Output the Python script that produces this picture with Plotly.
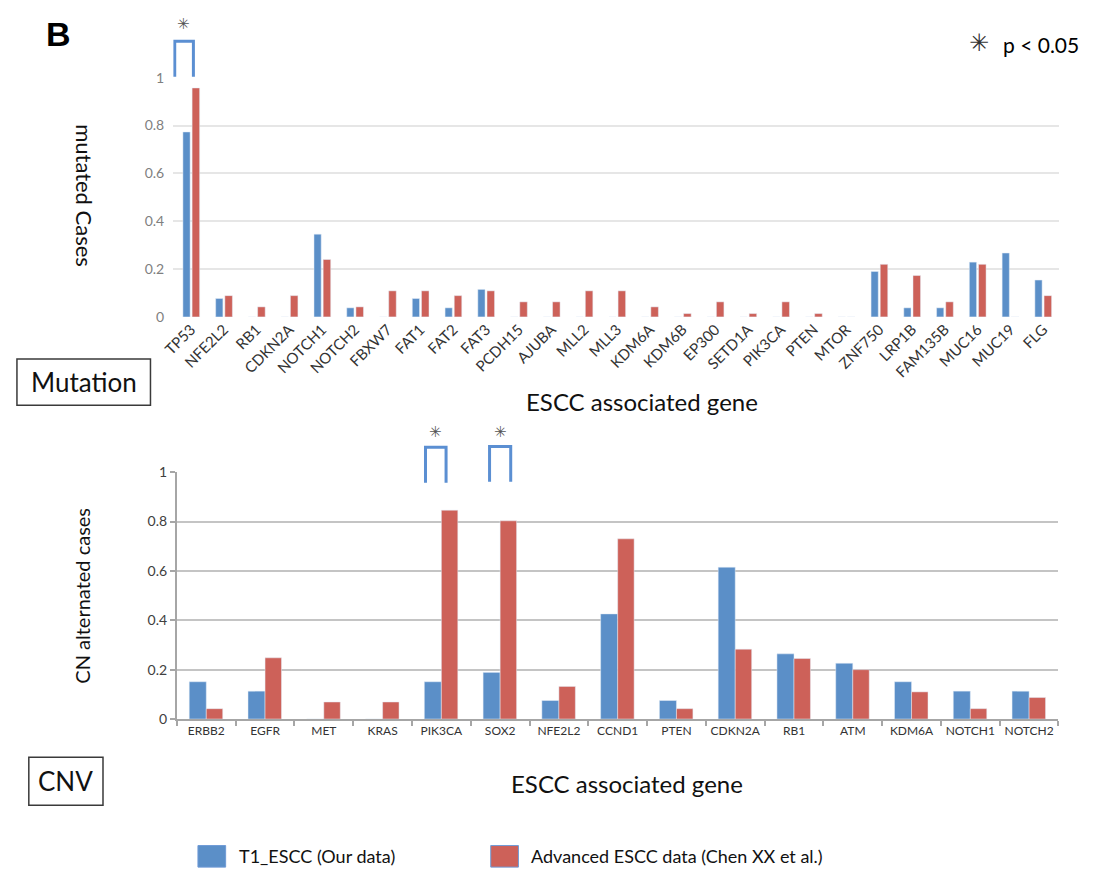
import plotly.graph_objects as go

W, H = 1102, 881

# ---------------- data ----------------
mut_genes = ["TP53", "NFE2L2", "RB1", "CDKN2A", "NOTCH1", "NOTCH2", "FBXW7", "FAT1", "FAT2",
             "FAT3", "PCDH15", "AJUBA", "MLL2", "MLL3", "KDM6A", "KDM6B", "EP300", "SETD1A",
             "PIK3CA", "PTEN", "MTOR", "ZNF750", "LRP1B", "FAM135B", "MUC16", "MUC19", "FLG"]
mut_t1 = [0.773, 0.077, 0, 0, 0.346, 0.038, 0, 0.077, 0.038,
          0.115, 0, 0, 0, 0, 0, 0, 0, 0,
          0, 0, 0, 0.190, 0.038, 0.038, 0.229, 0.267, 0.154]
mut_adv = [0.957, 0.089, 0.042, 0.089, 0.240, 0.042, 0.109, 0.109, 0.089,
           0.109, 0.063, 0.063, 0.109, 0.109, 0.042, 0.014, 0.063, 0.014,
           0.063, 0.014, 0, 0.220, 0.173, 0.063, 0.220, 0, 0.089]

cnv_genes = ["ERBB2", "EGFR", "MET", "KRAS", "PIK3CA", "SOX2", "NFE2L2", "CCND1", "PTEN",
             "CDKN2A", "RB1", "ATM", "KDM6A", "NOTCH1", "NOTCH2"]
cnv_t1 = [0.151, 0.113, 0, 0, 0.151, 0.189, 0.075, 0.426, 0.075,
          0.615, 0.264, 0.226, 0.151, 0.113, 0.113]
cnv_adv = [0.042, 0.248, 0.069, 0.069, 0.846, 0.803, 0.132, 0.730, 0.042,
           0.283, 0.245, 0.200, 0.110, 0.042, 0.087]

y_ticks = [0, 0.2, 0.4, 0.6, 0.8, 1]
y_ticktext = ["0", "0.2", "0.4", "0.6", "0.8", "1"]

series_names = ["T1_ESCC (Our data)", "Advanced ESCC data (Chen XX et al.)"]
BLUE = "#5b8fc8"
RED = "#cd6159"

mut_sig = ["TP53"]
cnv_sig = ["PIK3CA", "SOX2"]

FONT = "Lato, 'Open Sans', sans-serif"

def px(x):
    return x / W

def py(y):
    return 1 - y / H

fig = go.Figure()

# top: mutation
fig.add_trace(go.Bar(x=mut_genes, y=mut_t1, name=series_names[0], marker_color=BLUE,
                     width=0.22, offset=-0.25, xaxis="x", yaxis="y", showlegend=False))
fig.add_trace(go.Bar(x=mut_genes, y=mut_adv, name=series_names[1], marker_color=RED,
                     width=0.23, offset=0.03, xaxis="x", yaxis="y", showlegend=False))
# bottom: CNV
fig.add_trace(go.Bar(x=cnv_genes, y=cnv_t1, name=series_names[0], marker_color=BLUE,
                     width=0.29, offset=-0.29, xaxis="x2", yaxis="y2", showlegend=False))
fig.add_trace(go.Bar(x=cnv_genes, y=cnv_adv, name=series_names[1], marker_color=RED,
                     width=0.28, offset=0.0, xaxis="x2", yaxis="y2", showlegend=False))

shapes = []
annotations = []

def note(x, y, text, size, color="#111111", family=FONT, xanchor="center", **kw):
    d = dict(x=x, y=y, xref=kw.pop("xref", "paper"), yref=kw.pop("yref", "paper"), text=text,
             showarrow=False, xanchor=xanchor, yanchor="middle",
             font=dict(size=size, color=color, family=family))
    d.update(kw)
    annotations.append(d)

# significance brackets (x in category units, y in paper)
def bracket(xref, idx, lo, hi, ytop, ybot):
    shapes.append(dict(type="path", xref=xref, yref="paper",
                       path=f"M {idx+lo} {py(ybot)} L {idx+lo} {py(ytop)} L {idx+hi} {py(ytop)} L {idx+hi} {py(ybot)}",
                       line=dict(color="#5b8fd2", width=3)))

for g in mut_sig:
    i = mut_genes.index(g)
    bracket("x", i, -0.5, 0.07, 33, 69)
    note(i - 0.22, py(15), "✳", 15, color="#555555", family="DejaVu Sans", xref="x")

cnv_br = {"PIK3CA": (-0.27, 0.08, 447, 483), "SOX2": (-0.18, 0.18, 446, 482)}
for g in cnv_sig:
    i = cnv_genes.index(g)
    lo, hi, yt, yb = cnv_br[g]
    bracket("x2", i, lo, hi, yt, yb)
    note(i + (lo + hi) / 2, py(431), "✳", 15, color="#555555", family="DejaVu Sans", xref="x2")

# panel letter & p-value key
note(px(47), py(26), "<b>B</b>", 34, color="black", family="Liberation Sans, Arial")
note(px(978), py(35), "✳", 24, color="#333333", family="DejaVu Sans")
note(px(1000), py(36), "p < 0.05", 21, color="black", xanchor="left")

# axis titles
note(px(73), py(190), "mutated Cases", 22, textangle=90)
note(px(71), py(598), "CN alternated cases", 20, textangle=-90)
note(px(637), py(400), "ESCC associated gene", 24)
note(px(622), py(790), "ESCC associated gene", 24)

# boxed labels
for (x0, x1, y0, y1, txt) in [(5, 140, 357, 404, "Mutation"), (17, 92, 763, 812, "CNV")]:
    shapes.append(dict(type="rect", xref="paper", yref="paper", x0=px(x0), x1=px(x1), y0=py(y1), y1=py(y0),
                       line=dict(color="#3a3a3a", width=1.5), fillcolor="rgba(0,0,0,0)", layer="below"))
    note(px((x0 + x1) / 2), py((y0 + y1) / 2), txt, 26)

# legend (series colours & names)
for (sx, tx, col, name) in [(188, 227, BLUE, series_names[0]), (484, 523, RED, series_names[1])]:
    shapes.append(dict(type="rect", xref="paper", yref="paper", x0=px(sx), x1=px(sx + 28),
                       y0=py(875), y1=py(853), line=dict(color="#6f9ad6", width=1), fillcolor=col))
    note(px(tx), py(864), name, 18, xanchor="left")

fig.update_layout(
    width=W, height=H,
    margin=dict(l=0, r=0, t=0, b=0),
    paper_bgcolor="white", plot_bgcolor="white",
    font=dict(family=FONT, color="#333333"),
    barmode="group",
    showlegend=False,
    xaxis=dict(domain=[px(163), px(1059)], anchor="y", type="category",
               tickangle=-45, tickfont=dict(size=15, color="#333333", family=FONT),
               showline=False, showgrid=False, ticks="", zeroline=False),
    yaxis=dict(domain=[py(314), py(70)], anchor="x", range=[0, 1],
               tickvals=y_ticks, ticktext=y_ticktext,
               tickfont=dict(size=14, color="#7f7f7f", family=FONT),
               showgrid=True, gridcolor="#e6e6e6", gridwidth=2,
               showline=False, zeroline=False, ticks="", ticklabelstandoff=8),
    xaxis2=dict(domain=[px(166.7), px(1058)], anchor="y2", type="category",
                tickangle=0, tickfont=dict(size=12, color="#333333", family=FONT),
                showline=True, linecolor="#a6a6a6", linewidth=2,
                ticks="outside", tickson="boundaries", ticklen=5, tickcolor="#a6a6a6", tickwidth=2,
                showgrid=False, zeroline=False),
    yaxis2=dict(domain=[py(724), py(472.3)], anchor="x2", range=[0, 1],
                tickvals=y_ticks, ticktext=y_ticktext,
                tickfont=dict(size=14, color="#404040", family=FONT),
                showgrid=True, gridcolor="#c4c4c4", gridwidth=2,
                showline=True, linecolor="#a6a6a6", linewidth=2,
                ticks="outside", ticklen=5, tickcolor="#a6a6a6", tickwidth=2, zeroline=False),
    shapes=shapes,
    annotations=annotations,
)

fig.write_html("out.html", config={"displayModeBar": False},
               post_script="document.body.style.margin='0';")
